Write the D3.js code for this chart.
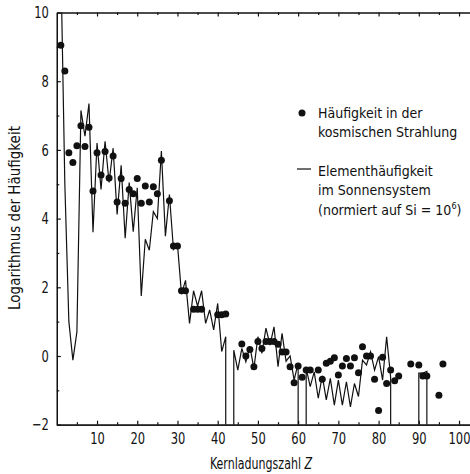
<!DOCTYPE html>
<html>
<head>
  <meta charset="utf-8">
  <title>Häufigkeit der Elemente</title>
  <script src="https://d3js.org/d3.v7.min.js"></script>
  <style>
    html, body { margin: 0; background: #fff; overflow: hidden; }
    svg text { font-family: "Liberation Sans Narrow", "DejaVu Sans Condensed", "Arial Narrow", sans-serif; fill: #111; }
    .axis path, .axis line { stroke: #111; stroke-width: 1.2; }
  </style>
</head>
<body>
  <div id="chart"></div>
  <script>
    // Kernladungszahl Z -> log10 Häufigkeit (Sonnensystem, Si = 10^6); null = kein Wert
    const solarZ = d3.range(1, 94);
    const solarLog = [
      11.5, 5.0, 1.0, -0.12, 0.7, 7.15, 6.4, 7.35, 3.6, 6.2,
      4.85, 6.25, 5.05, 6.05, 4.12, 5.55, 3.43, 5.05, 3.62, 4.9,
      1.75, 3.4, 3.08, 4.2, 4.0, 5.97, 3.49, 4.7, 3.1, 3.25,
      1.8, 2.2, 0.95, 1.9, 1.45, 1.9, 0.95, 1.34, 0.76, 1.53,
      0.13, 0.56, null, 0.17, -0.41, 0.22, -0.17, 0.27, -0.36, 0.56,
      0.08, 0.81, 0.32, 0.85, -0.31, 0.66, -0.15, 0.0, -0.7, -0.21,
      null, -0.36, -0.89, -0.46, -1.23, -0.58, -1.28, -0.65, -1.43, -0.7,
      -1.43, -0.75, -1.48, -0.8, -1.18, -0.12, -0.26, 0.12, -0.41, -0.02,
      -0.7, 0.56, -0.62, null, null, null, null, null, null, -0.5,
      -0.5, -0.45, null
    ];

    // Häufigkeit in der kosmischen Strahlung
    const cosmicZ = [
      1, 2, 3, 4, 5, 6, 7, 8, 9, 10,
      11, 12, 13, 14, 15, 16, 17, 18, 19, 20,
      21, 22, 23, 24, 25, 26, 28, 29, 30, 31,
      32, 34, 35, 36, 40, 41, 42, 46, 47, 48,
      49, 50, 51, 52, 53, 54, 55, 56, 57, 58,
      59, 60, 61, 62, 63, 65, 66, 67, 68, 69,
      70, 71, 72, 73, 74, 75, 76, 77, 78, 79,
      80, 81, 82, 83, 84, 85, 88, 90, 91, 92,
      95, 96
    ];
    const cosmicLog = [
      9.05, 8.3, 5.92, 5.63, 6.12, 6.7, 6.1, 6.66, 4.8, 5.92,
      5.27, 5.95, 5.18, 5.82, 4.48, 5.17, 4.45, 4.85, 4.72, 5.17,
      4.45, 4.95, 4.48, 4.93, 4.72, 5.7, 4.52, 3.2, 3.2, 1.9,
      1.9, 1.36, 1.36, 1.36, 1.2, 1.2, 1.22, 0.35, 0.0, 0.19,
      -0.31, 0.42, 0.22, 0.42, 0.42, 0.42, 0.34, 0.12, 0.12, -0.31,
      -0.78, -0.29, -0.62, -0.41, -0.41, -0.41, -0.68, -0.21, -0.15, -0.05,
      -0.55, -0.29, -0.07, -0.29, -0.05, -0.49, 0.27, 0.0, 0.0, -0.68,
      -1.59, -0.04, -0.8, -0.41, -0.72, -0.58, -0.23, -0.26, -0.58, -0.58,
      -1.14, -0.23
    ];

    const xMajor = d3.range(10, 101, 10);
    const xMinor = d3.range(5, 100, 10);
    const yMajor = d3.range(-2, 11, 2);
    const yMinor = d3.range(-1, 10, 2);

    const width = 470, height = 474;
    const svg = d3.select('#chart').append('svg')
      .attr('width', width)
      .attr('height', height);

    const x = d3.scaleLinear().domain([0, 103]).range([56.8, 471.1]);
    const y = d3.scaleLinear().domain([-2, 10]).range([424.7, 12.5]);

    // condensed look for the tick labels
    const narrow = g => g.selectAll('text').attr('font-size', 16).attr('transform', 'scale(0.8,1)');

    // axes
    svg.append('g').attr('class', 'axis')
      .attr('transform', `translate(0,${y(-2)})`)
      .call(d3.axisBottom(x).tickValues(xMajor).tickSize(-4).tickSizeOuter(0).tickPadding(8))
      .call(narrow);
    svg.append('g').attr('class', 'axis')
      .attr('transform', `translate(0,${y(-2)})`)
      .call(d3.axisBottom(x).tickValues(xMinor).tickSize(-2.5).tickSizeOuter(0).tickFormat(''));
    svg.append('g').attr('class', 'axis')
      .attr('transform', `translate(0,${y(10)})`)
      .call(d3.axisTop(x).tickValues(xMajor).tickSize(-4).tickSizeOuter(0).tickFormat(''));
    svg.append('g').attr('class', 'axis')
      .attr('transform', `translate(0,${y(10)})`)
      .call(d3.axisTop(x).tickValues(xMinor).tickSize(-2.5).tickSizeOuter(0).tickFormat(''));
    svg.append('g').attr('class', 'axis')
      .attr('transform', `translate(${x(0)},0)`)
      .call(d3.axisLeft(y).tickValues(yMajor).tickSize(-4).tickSizeOuter(0).tickPadding(10))
      .call(narrow);
    svg.append('g').attr('class', 'axis')
      .attr('transform', `translate(${x(0)},0)`)
      .call(d3.axisLeft(y).tickValues(yMinor).tickSize(-2.5).tickSizeOuter(0).tickFormat(''));

    // solar line: segments, missing elements drop to the bottom
    const solar = solarZ.map((z, i) => ({ z: z, v: solarLog[i] }));
    const pts = [];
    solar.forEach((d, i) => {
      if (d.v == null) { pts.push(null); return; }
      if (i > 0 && solar[i - 1].v == null) pts.push({ z: d.z, v: -2 });
      pts.push(d);
      if (i < solar.length - 1 && solar[i + 1].v == null) pts.push({ z: d.z, v: -2 });
    });

    svg.append('clipPath').attr('id', 'plot')
      .append('rect')
      .attr('x', x(0)).attr('y', y(10))
      .attr('width', x(103) - x(0)).attr('height', y(-2) - y(10));

    const line = d3.line()
      .defined(d => d != null)
      .x(d => x(d.z))
      .y(d => y(d.v));

    svg.append('path')
      .datum(pts)
      .attr('clip-path', 'url(#plot)')
      .attr('fill', 'none')
      .attr('stroke', '#111')
      .attr('stroke-width', 1.2)
      .attr('d', line);

    // cosmic ray dots
    svg.append('g')
      .selectAll('circle')
      .data(cosmicZ)
      .enter().append('circle')
      .attr('cx', d => x(d))
      .attr('cy', (d, i) => y(cosmicLog[i]))
      .attr('r', 3.5)
      .attr('fill', '#111');

    // legend
    const lg = svg.append('g').attr('font-size', 14);
    lg.append('circle').attr('cx', 302).attr('cy', 113).attr('r', 3.5).attr('fill', '#111');
    lg.append('text').attr('x', 318).attr('y', 118).text('Häufigkeit in der');
    lg.append('text').attr('x', 318).attr('y', 137).text('kosmischen Strahlung');
    lg.append('line').attr('x1', 297).attr('x2', 311).attr('y1', 169).attr('y2', 169)
      .attr('stroke', '#111').attr('stroke-width', 1.2);
    lg.append('text').attr('x', 318).attr('y', 176).text('Elementhäufigkeit');
    lg.append('text').attr('x', 318).attr('y', 195).text('im Sonnensystem');
    const norm = lg.append('text').attr('x', 318).attr('y', 215);
    norm.append('tspan').text('(normiert auf Si = 10');
    norm.append('tspan').attr('dy', -6).attr('font-size', 9).text('6');
    norm.append('tspan').attr('dy', 6).text(')');

    // axis titles
    const xt = svg.append('text')
      .attr('transform', 'translate(261,469) scale(0.82,1)')
      .attr('text-anchor', 'middle')
      .attr('font-size', 15);
    xt.append('tspan').text('Kernladungszahl ');
    xt.append('tspan').attr('font-style', 'italic').text('Z');

    svg.append('text')
      .attr('transform', 'translate(20,218) rotate(-90)')
      .attr('text-anchor', 'middle')
      .attr('font-size', 15)
      .text('Logarithmus der Häufigkeit');
  </script>
</body>
</html>
